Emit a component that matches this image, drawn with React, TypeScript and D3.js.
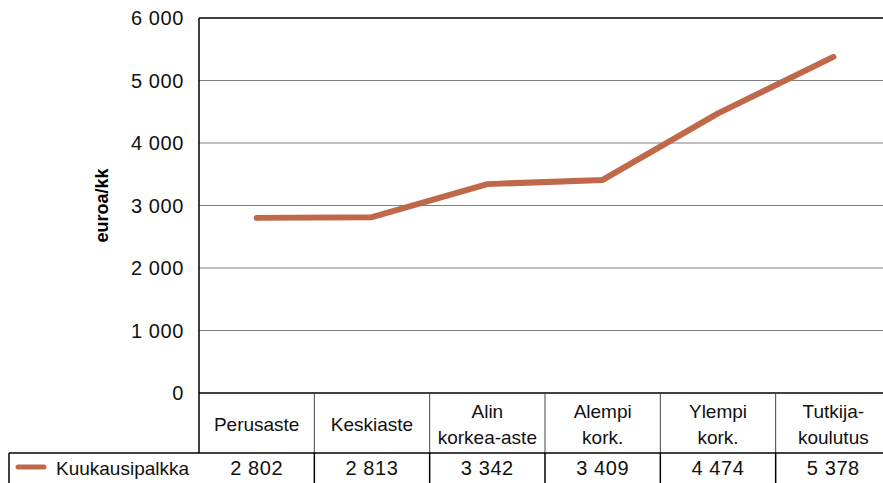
import * as d3 from "d3";

const categories = [
  ["Perusaste"],
  ["Keskiaste"],
  ["Alin", "korkea-aste"],
  ["Alempi", "kork."],
  ["Ylempi", "kork."],
  ["Tutkija-", "koulutus"],
];
const salary = [2802, 2813, 3342, 3409, 4474, 5378];
const valueLabels = ["2 802", "2 813", "3 342", "3 409", "4 474", "5 378"];
const yTicks = [0, 1000, 2000, 3000, 4000, 5000, 6000];
const seriesName = "Kuukausipalkka";

export default function App() {
  const width = 883;
  const height = 483;
  const left = 199;
  const right = 891;
  const top = 18;
  const bottom = 393;
  const headerBottom = 453;
  const tableBottom = 490;
  const lineColor = "#c0694a";
  const font = "'Liberation Sans', Arial, sans-serif";

  const idx = categories.map((_, i) => String(i));
  const x = d3.scaleBand().domain(idx).range([left, right]);
  const y = d3.scaleLinear().domain([0, 6000]).range([bottom, top]);

  const line = d3
    .line<number>()
    .x((_, i) => x(String(i))! + x.bandwidth() / 2)
    .y((d) => y(d));

  const fmt = (v: number) =>
    v === 0 ? "0" : d3.format(",")(v).replace(/,/g, " ");

  return (
    <svg
      width={width}
      height={height}
      style={{ position: "absolute", left: 0, top: 0, background: "#fff" }}
      fontFamily={font}
    >
      {/* grid */}
      {yTicks.map((t) => (
        <g key={t}>
          <line
            x1={left}
            x2={right}
            y1={y(t)}
            y2={y(t)}
            stroke={t === 6000 || t === 0 ? "#000" : "#808080"}
            strokeWidth={t === 6000 || t === 0 ? 1.5 : 1.2}
          />
          <text
            x={184}
            y={y(t)}
            textAnchor="end"
            dominantBaseline="central"
            fontSize={20}
            letterSpacing={0.6}
            fill="#111"
          >
            {fmt(t)}
          </text>
        </g>
      ))}
      <line x1={left} x2={left} y1={top} y2={headerBottom} stroke="#000" strokeWidth={1.5} />

      {/* y title */}
      <text
        transform={`translate(102,${(top + bottom) / 2}) rotate(-90)`}
        textAnchor="middle"
        dominantBaseline="central"
        fontSize={18}
        fontWeight="bold"
        fill="#000"
      >
        euroa/kk
      </text>

      {/* series */}
      <path
        d={line(salary) ?? ""}
        fill="none"
        stroke={lineColor}
        strokeWidth={6}
        strokeLinecap="round"
        strokeLinejoin="round"
      />

      {/* category header */}
      {categories.map((c, i) => {
        const cx = x(String(i))! + x.bandwidth() / 2;
        const mid = (bottom + headerBottom) / 2 + 1;
        return (
          <g key={i}>
            <line
              x1={x(String(i))! + x.bandwidth()}
              x2={x(String(i))! + x.bandwidth()}
              y1={bottom}
              y2={headerBottom}
              stroke="#444"
              strokeWidth={1}
            />
            {c.map((s, j) => (
              <text
                key={j}
                x={cx}
                y={mid + (j - (c.length - 1) / 2) * 26}
                textAnchor="middle"
                dominantBaseline="central"
                fontSize={19}
                fill="#111"
              >
                {s}
              </text>
            ))}
          </g>
        );
      })}

      {/* data table */}
      <line x1={9} x2={right} y1={headerBottom} y2={headerBottom} stroke="#000" strokeWidth={1.5} />
      <line x1={9} x2={9} y1={headerBottom} y2={tableBottom} stroke="#000" strokeWidth={1.5} />
      <line x1={18} x2={44} y1={467} y2={467} stroke={lineColor} strokeWidth={5} strokeLinecap="round" />
      <text x={56} y={468} dominantBaseline="central" fontSize={19} fill="#111">
        {seriesName}
      </text>
      {valueLabels.map((v, i) => (
        <g key={i}>
          <line
            x1={x(String(i))! + x.bandwidth()}
            x2={x(String(i))! + x.bandwidth()}
            y1={headerBottom}
            y2={tableBottom}
            stroke="#000"
            strokeWidth={1.5}
          />
          <text
            x={x(String(i))! + x.bandwidth() / 2}
            y={468}
            textAnchor="middle"
            dominantBaseline="central"
            fontSize={20}
            letterSpacing={0.6}
            fill="#111"
          >
            {v}
          </text>
        </g>
      ))}
    </svg>
  );
}
